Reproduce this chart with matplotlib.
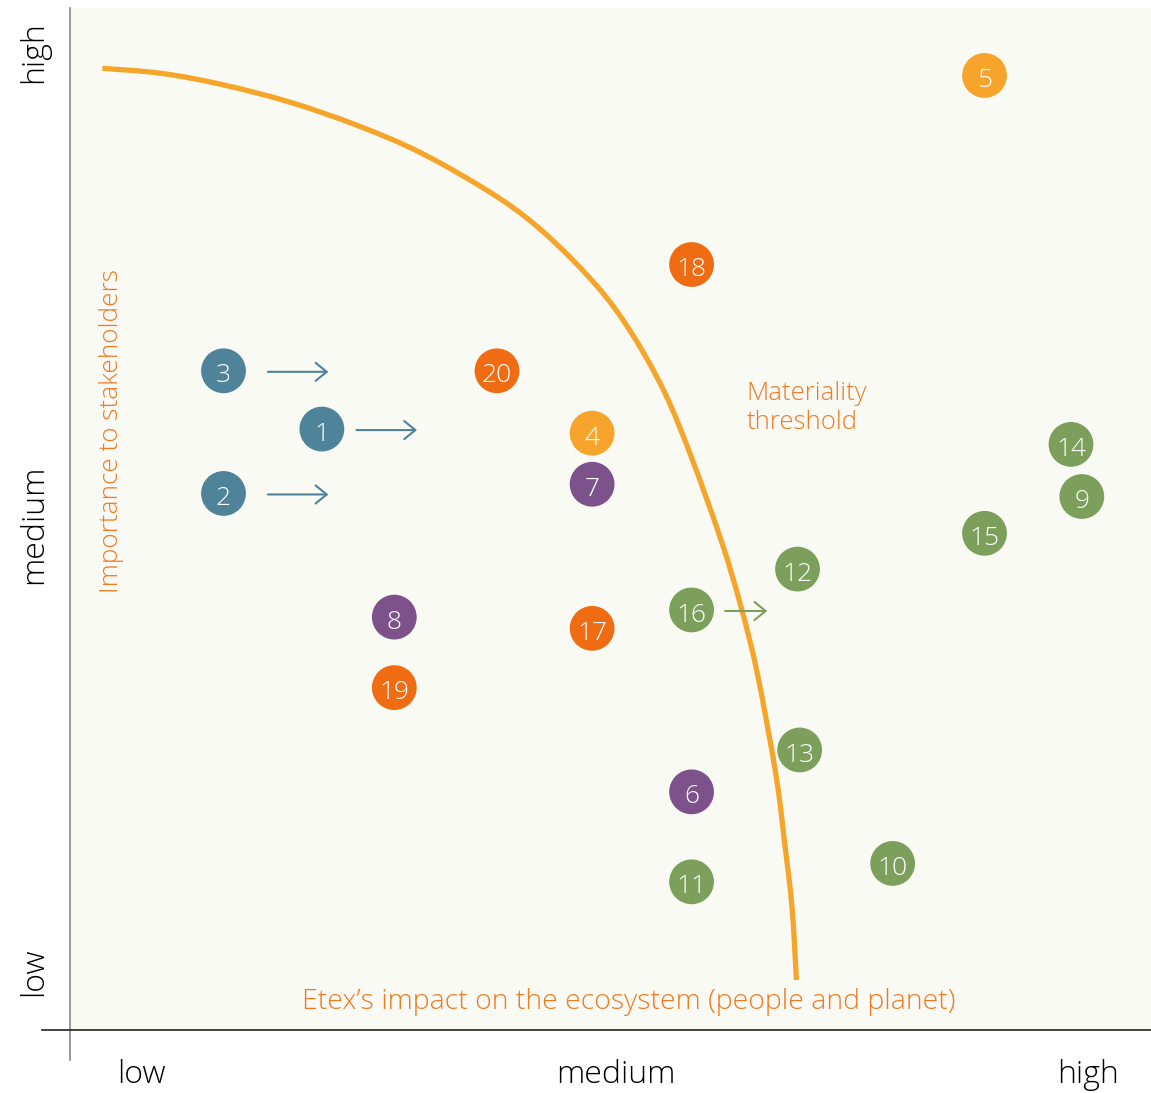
import matplotlib.pyplot as plt
from matplotlib.path import Path
from matplotlib.patches import PathPatch

# Topic numbers, position on the matrix (0-10 scale) and colour group
topics = [1, 2, 3, 4, 5, 6, 7, 8, 9, 10, 11, 12, 13, 14, 15, 16, 17, 18, 19, 20]
impact = [2.33, 1.42, 1.42, 4.83, 8.46, 5.75, 4.83, 3.00, 9.36, 7.61,
          5.75, 6.73, 6.75, 9.26, 8.46, 5.75, 4.83, 5.75, 3.00, 3.95]
importance = [5.88, 5.25, 6.45, 5.84, 9.34, 2.33, 5.34, 4.04, 5.22, 1.63,
              1.45, 4.51, 2.74, 5.73, 4.86, 4.11, 3.93, 7.49, 3.35, 6.45]
groups = ["blue", "blue", "blue", "amber", "amber", "purple", "purple", "purple",
          "green", "green", "green", "green", "green", "green", "green", "green",
          "orange", "orange", "orange", "orange"]

# Topics that are moving to the right, with arrow start and end on the impact axis
moves = {3: (1.83, 2.39), 1: (2.65, 3.21), 2: (1.83, 2.39), 16: (6.06, 6.45)}

# Materiality threshold curve
curve_x = [0.30, 0.85, 1.41, 2.03, 2.66, 3.27, 3.97, 4.43, 4.89, 5.20, 5.50,
           5.75, 6.03, 6.21, 6.36, 6.53, 6.61, 6.68, 6.72]
curve_y = [9.41, 9.36, 9.25, 9.08, 8.85, 8.57, 8.14, 7.76, 7.26, 6.81, 6.24,
           5.60, 4.77, 4.13, 3.48, 2.50, 1.84, 1.19, 0.49]

level_labels = ["low", "medium", "high"]

palette = {"blue": "#4f8399", "amber": "#f6a42c", "purple": "#7d5189",
           "green": "#7ca05b", "orange": "#ef6c12"}
text_orange = "#f07a22"
font = "Open Sans"


def smooth_path(xs, ys):
    # Catmull-Rom through the points, written as cubic Bezier segments
    pts = list(zip(xs, ys))
    verts = [pts[0]]
    codes = [Path.MOVETO]
    for i in range(len(pts) - 1):
        p0 = pts[i - 1] if i > 0 else pts[i]
        p1, p2 = pts[i], pts[i + 1]
        p3 = pts[i + 2] if i + 2 < len(pts) else pts[i + 1]
        c1 = (p1[0] + (p2[0] - p0[0]) / 6, p1[1] + (p2[1] - p0[1]) / 6)
        c2 = (p2[0] - (p3[0] - p1[0]) / 6, p2[1] - (p3[1] - p1[1]) / 6)
        verts += [c1, c2, p2]
        codes += [Path.CURVE4] * 3
    return Path(verts, codes)


W, H = 1151, 1093
fig = plt.figure(figsize=(W / 100, H / 100), dpi=100)
ax = fig.add_axes([70 / W, (H - 1030) / H, 1081 / W, 1022 / H])
ax.set_xlim(0, 10)
ax.set_ylim(0, 10)
ax.set_facecolor("#fafaf5")
for s in ax.spines.values():
    s.set_visible(False)
ax.set_xticks([])
ax.set_yticks([])

# axis lines, extending a little past the shaded area
ax.plot([0, 0], [-0.29, 10], color="#888888", lw=1.2, clip_on=False)
ax.plot([-0.26, 10], [0, 0], color="#222222", lw=1.2, clip_on=False)

ax.add_patch(PathPatch(smooth_path(curve_x, curve_y), facecolor="none",
                       edgecolor="#f6a52b", lw=3.8, capstyle="butt", zorder=2))

for t, x, y, g in zip(topics, impact, importance, groups):
    ax.scatter(x, y, s=1040, color=palette[g], edgecolors="none", zorder=3)
    ax.text(x, y - 0.02, str(t), color="white", fontsize=19, family=font, weight="light",
            ha="center", va="center_baseline", zorder=4)
    if t in moves:
        x0, x1 = moves[t]
        ax.annotate("", xy=(x1, y - 0.01), xytext=(x0, y - 0.01),
                    arrowprops=dict(arrowstyle="->,head_length=0.8,head_width=0.65",
                                    color=palette[g], lw=1.5, shrinkA=0, shrinkB=0),
                    zorder=4)

ax.text(6.26, 6.09, "Materiality\nthreshold", color=text_orange, fontsize=18.5,
        family=font, weight="light", ha="left", va="center", linespacing=1.2)
ax.text(0.38, 5.86, "Importance to stakeholders", color=text_orange, fontsize=18.8,
        family=font, weight="light", rotation=90, ha="center", va="center")
ax.text(5.17, 0.27, "Etex\u2019s impact on the ecosystem (people and planet)",
        color=text_orange, fontsize=20.5, family=font, weight="light",
        ha="center", va="center")

# level labels on both axes
for lbl, xpos in zip(level_labels, [0.66, 5.05, 9.42]):
    ax.text(xpos, -0.44, lbl, color="black", fontsize=23, family=font,
            weight="light", ha="center", va="center", clip_on=False)
for lbl, ypos in zip(level_labels, [0.57, 4.95, 9.57]):
    ax.text(-0.33, ypos, lbl, color="black", fontsize=23, family=font,
            weight="light", rotation=90, ha="center", va="center", clip_on=False)

fig.savefig("out.png", dpi=100)
